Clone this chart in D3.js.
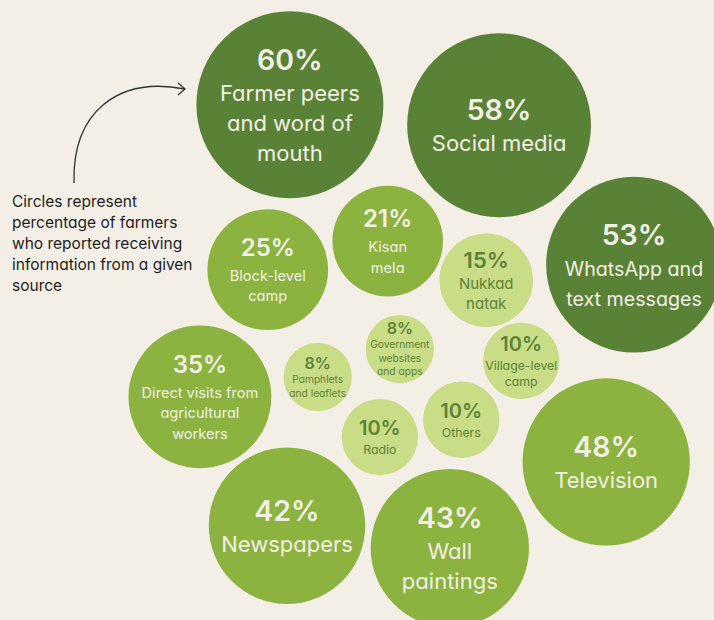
<!DOCTYPE html>
<meta charset="utf-8" />
<script src="https://d3js.org/d3.v7.min.js"></script>
<body>
  <div id="my_dataviz"></div>

  <script>
    // share of farmers (%) reporting each information source
    const sources = [
      ["Farmer peers", "and word of", "mouth"],
      ["Social media"],
      ["WhatsApp and", "text messages"],
      ["Television"],
      ["Wall", "paintings"],
      ["Newspapers"],
      ["Direct visits from", "agricultural", "workers"],
      ["Block-level", "camp"],
      ["Kisan", "mela"],
      ["Nukkad", "natak"],
      ["Village-level", "camp"],
      ["Government", "websites", "and apps"],
      ["Pamphlets", "and leaflets"],
      ["Radio"],
      ["Others"],
    ];
    const shares = [60, 58, 53, 48, 43, 42, 35, 25, 21, 15, 10, 8, 8, 10, 10];

    // hand placed bubble layout, in % of the canvas
    const layoutX = [40.6, 69.9, 88.8, 84.9, 63.0, 40.2, 28.0, 37.5, 54.3, 68.1, 73.0, 56.0, 44.5, 53.2, 64.6];
    const layoutY = [16.9, 20.2, 42.7, 74.5, 88.4, 84.8, 64.0, 43.5, 38.9, 45.2, 58.2, 56.3, 60.8, 70.5, 67.7];

    const note = [
      "Circles represent",
      "percentage of farmers",
      "who reported receiving",
      "information from a given",
      "source",
    ];

    var width = 714,
      height = 620;

    var svg = d3
      .select("#my_dataviz")
      .append("svg")
      .attr("width", width)
      .attr("height", height);

    svg.append("rect").attr("width", width).attr("height", height).attr("fill", "#f3efe6");

    var x = d3.scaleLinear().domain([0, 100]).range([0, width]);
    var y = d3.scaleLinear().domain([0, 100]).range([0, height]);
    var r = d3.scaleSqrt().domain([0, 60]).range([0, 93.5]);

    var fill = d3.scaleThreshold().domain([20, 50]).range(["#c9dc86", "#8cb33f", "#5a8237"]);
    var ink = d3.scaleThreshold().domain([20]).range(["#5c8338", "#f3efe6"]);

    // text sizes step with bubble size
    var tier = d3.scaleThreshold().domain([9, 12, 18, 40]).range([0, 1, 2, 3, 4]);
    var pctSize = [16, 20, 22, 24, 28.5];
    var lblSize = [10.2, 12.3, 15, 14.6, 22];
    var gap = [14, 19, 21, 25, 31];
    var lineH = [13.5, 16, 20, 20.5, 30];

    var data = shares.map(function (v, i) {
      return { value: v, lines: sources[i], cx: x(layoutX[i]), cy: y(layoutY[i]) };
    });

    var nodes = svg
      .selectAll("g.bubble")
      .data(data)
      .enter()
      .append("g")
      .attr("class", "bubble");

    nodes
      .append("circle")
      .attr("cx", function (d) { return d.cx; })
      .attr("cy", function (d) { return d.cy; })
      .attr("r", function (d) { return r(d.value); })
      .attr("fill", function (d) { return fill(d.value); });

    nodes.each(function (d) {
      var t = tier(d.value);
      var cap = pctSize[t] * 0.727;
      var last = gap[t] + (d.lines.length - 1) * lineH[t];
      var base = d.cy - (last - cap) / 2; // baseline of the % figure
      var g = d3.select(this);
      g.append("text")
        .attr("class", "pct")
        .attr("x", d.cx)
        .attr("y", base)
        .attr("fill", ink(d.value))
        .style("font-size", pctSize[t] + "px")
        .text(d.value + "%");
      var size = lblSize[t];
      // big multi-line labels: rough fit so lines stay inside the circle
      if (t == 4 && d.lines.length > 1) {
        var chars = d3.max(d.lines, function (s) { return s.length; });
        size = Math.min(size, (1.6 * r(d.value)) / (chars * 0.55));
      }
      d.lines.forEach(function (line, j) {
        g.append("text")
          .attr("class", "lbl")
          .attr("x", d.cx)
          .attr("y", base + gap[t] + j * lineH[t])
          .attr("fill", ink(d.value))
          .style("font-size", size + "px")
          .text(line);
      });
    });

    // annotation
    svg
      .selectAll("text.note")
      .data(note)
      .enter()
      .append("text")
      .attr("class", "note")
      .attr("x", 12)
      .attr("y", function (d, i) { return 207 + i * 21; })
      .text(function (d) { return d; });

    svg
      .append("path")
      .attr("d", "M74,183 C72,112 118,76 185,89")
      .attr("fill", "none")
      .attr("stroke", "#333")
      .attr("stroke-width", 1.3);
    svg
      .append("path")
      .attr("d", "M178,83 L185,89 L178,95")
      .attr("fill", "none")
      .attr("stroke", "#333")
      .attr("stroke-width", 1.3);
  </script>

  <style>
    body {
      margin: 0;
      background: #f3efe6;
    }
    text {
      font-family: Inter, "Noto Sans", sans-serif;
      font-feature-settings: "cv11";
      text-anchor: middle;
    }
    .pct {
      font-weight: 600;
    }
    .note {
      text-anchor: start;
      font-size: 15.5px;
      fill: #222;
    }
  </style>
</body>
